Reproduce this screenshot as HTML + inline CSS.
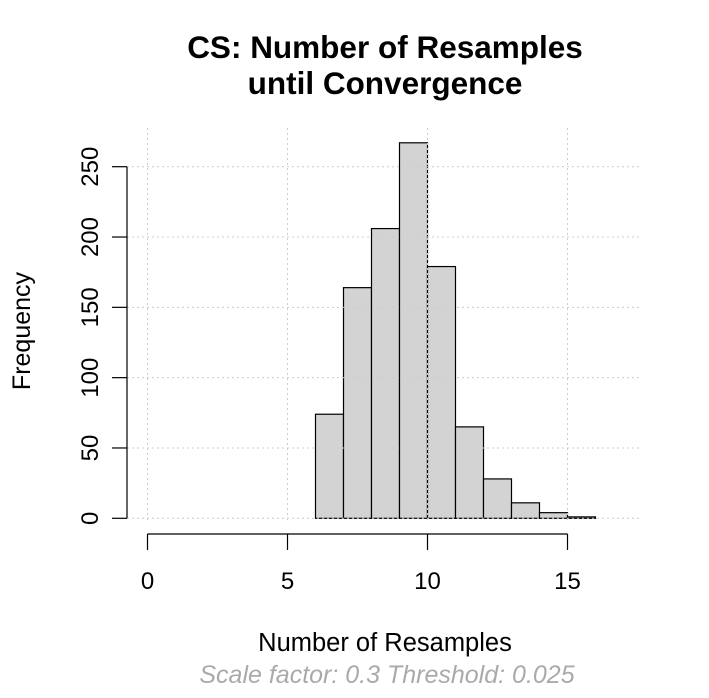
<!DOCTYPE html>
<html><head><meta charset="utf-8"><style>
body{margin:0;background:#fff}
text{font-family:"Liberation Sans",Arial,sans-serif}
</style></head><body>
<svg id="chart" width="709" height="693" viewBox="0 0 709 693" xmlns="http://www.w3.org/2000/svg">
<rect width="709" height="693" fill="#fff"/>
<text x="385" y="58" text-anchor="middle" font-size="31.5" font-weight="bold">CS: Number of Resamples</text>
<text x="385" y="94" text-anchor="middle" font-size="31.5" font-weight="bold">until Convergence</text>
<text x="385" y="651" text-anchor="middle" font-size="25.5">Number of Resamples</text>
<text x="387" y="683" text-anchor="middle" font-size="25" font-style="italic" fill="#aaa">Scale factor: 0.3 Threshold: 0.025</text>
<text transform="translate(30,331) rotate(-90)" text-anchor="middle" font-size="25">Frequency</text>
<g id="bars"></g><g id="grid"></g><g id="axes"></g>
</svg>
<script>
const binStarts=[6,7,8,9,10,11,12,13,14,15];
const counts=[74,164,206,267,179,65,28,11,4,1];
const xTicks=[0,5,10,15];
const yTicks=[0,50,100,150,200,250];
const NS="http://www.w3.org/2000/svg";
const sx=v=>147.5+v*28;
const sy=v=>518.3-v*1.4064;
function mk(tag,attrs,parent){const e=document.createElementNS(NS,tag);for(const k in attrs)e.setAttribute(k,attrs[k]);parent.appendChild(e);return e;}
const bars=document.getElementById('bars'),grid=document.getElementById('grid'),axes=document.getElementById('axes');
binStarts.forEach((b,i)=>{
 const r=mk('rect',{x:sx(b),y:sy(counts[i]),width:sx(b+1)-sx(b),height:sy(0)-sy(counts[i]),fill:'#d3d3d3',stroke:'#000','stroke-width':1.2},bars);
 
 
});
xTicks.forEach(t=>{
 const g=mk('line',{x1:sx(t),x2:sx(t),y1:128,y2:520,stroke:'#ccc','stroke-dasharray':'2,3'},grid);
 
 
 const tk=mk('line',{x1:sx(t),x2:sx(t),y1:534,y2:550,stroke:'#000','stroke-width':1.2},axes);
 
 
 const tx=mk('text',{x:sx(t),y:589,'text-anchor':'middle','font-size':24},axes);
 tx.textContent=t;
 
 
});
yTicks.forEach(t=>{
 const g=mk('line',{x1:127,x2:640,y1:sy(t),y2:sy(t),stroke:'#ccc','stroke-dasharray':'2,3'},grid);
 
 
 const tk=mk('line',{x1:112,x2:127,y1:sy(t),y2:sy(t),stroke:'#000','stroke-width':1.2},axes);
 
 
 const tx=mk('text',{transform:`translate(98,${sy(t)}) rotate(-90)`,'text-anchor':'middle','font-size':24},axes);
 tx.textContent=t;
 
 
});
const xa=mk('line',{x1:sx(xTicks[0]),x2:sx(xTicks[xTicks.length-1]),y1:534,y2:534,stroke:'#000','stroke-width':1.2},axes);


const ya=mk('line',{x1:127,x2:127,y1:sy(yTicks[0]),y2:sy(yTicks[yTicks.length-1]),stroke:'#000','stroke-width':1.2},axes);


</script>
</body></html>
